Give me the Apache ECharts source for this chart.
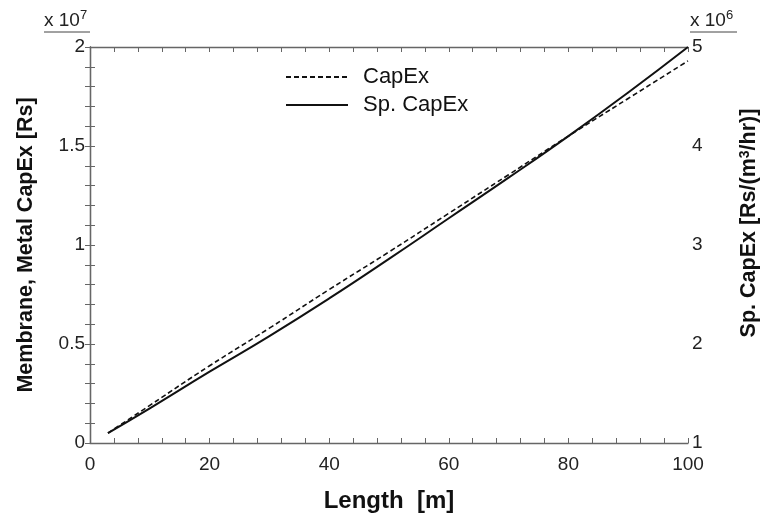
<!DOCTYPE html>
<html>
<head>
<meta charset="utf-8">
<script src="https://cdn.jsdelivr.net/npm/echarts@6/dist/echarts.min.js"></script>
<style>
  html, body { margin: 0; padding: 0; background: #fff; }
  #main { width: 761px; height: 517px; }
</style>
</head>
<body>
<div id="main"></div>
<script>
// values
var lengths = [3, 10, 20, 30, 40, 50, 60, 70, 80, 90, 100];
var capex   = [0.05, 0.19, 0.39, 0.58, 0.775, 0.965, 1.16, 1.355, 1.55, 1.74, 1.93];   // x 1e7 Rs
var spCapex = [1.10, 1.35, 1.72, 2.08, 2.46, 2.86, 3.27, 3.68, 4.10, 4.54, 5.00];      // x 1e6 Rs/(m3/hr)

var font = 'Liberation Sans, Arial, sans-serif';
var axisGrey = '#666';

function pairs(xs, ys) {
  var out = [];
  for (var i = 0; i < xs.length; i++) out.push([xs[i], ys[i]]);
  return out;
}
// label only every n-th step (ticks every small step, labels at major values)
function every(step) {
  return function (v) {
    var k = v / step;
    return Math.abs(k - Math.round(k)) < 1e-6 ? String(Math.round(v * 100) / 100) : '';
  };
}

var tickCommon = {
  axisLine: { show: true, lineStyle: { color: axisGrey, width: 1.3 } },
  axisTick: { show: true, inside: true, length: 5, lineStyle: { color: axisGrey } },
  splitLine: { show: false }
};

var chart = echarts.init(document.getElementById('main'));
var option = {
  animation: false,
  backgroundColor: '#fff',
  grid: { left: 90, right: 73, top: 47, bottom: 74, containLabel: false, outerBoundsMode: 'none' },
  legend: {
    left: 280, top: 61,
    orient: 'vertical',
    itemWidth: 62, itemHeight: 14, itemGap: 6,
    itemStyle: { opacity: 0 },
    textStyle: { fontFamily: font, fontSize: 22, color: '#111', padding: [0, 0, 0, 10] },
    data: ['CapEx', 'Sp. CapEx']
  },
  xAxis: [
    Object.assign({
      type: 'value', min: 0, max: 100, interval: 4, position: 'bottom',
      name: 'Length  [m]', nameLocation: 'middle', nameGap: 46,
      nameTextStyle: { fontFamily: font, fontSize: 24, fontWeight: 'bold', color: '#111' },
      axisLabel: { fontFamily: font, fontSize: 19, color: '#222', margin: 12, formatter: every(20) }
    }, tickCommon),
    Object.assign({
      type: 'value', min: 0, max: 100, interval: 4, position: 'top',
      axisLabel: { show: false }
    }, tickCommon)
  ],
  yAxis: [
    Object.assign({
      type: 'value', min: 0, max: 2, interval: 0.1, position: 'left',
      name: 'Membrane, Metal CapEx [Rs]', nameLocation: 'middle', nameGap: 53,
      nameTextStyle: { fontFamily: font, fontSize: 21.5, fontWeight: 'bold', color: '#111' },
      axisLabel: { fontFamily: font, fontSize: 19, color: '#222', margin: 5, formatter: every(0.5) }
    }, tickCommon),
    Object.assign({
      type: 'value', min: 1, max: 5, interval: 0.2, position: 'right',
      name: 'Sp. CapEx [Rs/(m{sup|3}/hr)]', nameLocation: 'middle', nameGap: 50,
      nameTextStyle: {
        fontFamily: font, fontSize: 21.5, fontWeight: 'bold', color: '#111',
        padding: [0, 0, 0, 44],
        rich: { sup: { fontFamily: font, fontSize: 14, fontWeight: 'bold', color: '#111', verticalAlign: 'top', padding: [0, 0, 9, 0] } }
      },
      axisLabel: { fontFamily: font, fontSize: 19, color: '#222', margin: 4, formatter: every(1) }
    }, tickCommon)
  ],
  graphic: [
    {
      type: 'text', left: 44, top: 9,
      style: { text: 'x 10{s|7}', font: '19px ' + font, fill: '#222',
        rich: { s: { fontSize: 13, fontFamily: font, verticalAlign: 'top', padding: [0, 0, 10, 0], fill: '#222' } } }
    },
    { type: 'line', shape: { x1: 44, y1: 32, x2: 90, y2: 32 }, style: { stroke: '#444', lineWidth: 1 } },
    {
      type: 'text', left: 690, top: 9,
      style: { text: 'x 10{s|6}', font: '19px ' + font, fill: '#222',
        rich: { s: { fontSize: 13, fontFamily: font, verticalAlign: 'top', padding: [0, 0, 10, 0], fill: '#222' } } }
    },
    { type: 'line', shape: { x1: 690, y1: 32, x2: 737, y2: 32 }, style: { stroke: '#444', lineWidth: 1 } }
  ],
  series: [
    {
      name: 'CapEx', type: 'line', xAxisIndex: 0, yAxisIndex: 0,
      data: pairs(lengths, capex), smooth: true, symbol: 'none',
      lineStyle: { color: '#111', width: 1.6, type: [5, 3] },
      itemStyle: { color: '#111' }
    },
    {
      name: 'Sp. CapEx', type: 'line', xAxisIndex: 0, yAxisIndex: 1,
      data: pairs(lengths, spCapex), smooth: true, symbol: 'none',
      lineStyle: { color: '#111', width: 2 },
      itemStyle: { color: '#111' }
    }
  ]
};
chart.setOption(option);
</script>
</body>
</html>
